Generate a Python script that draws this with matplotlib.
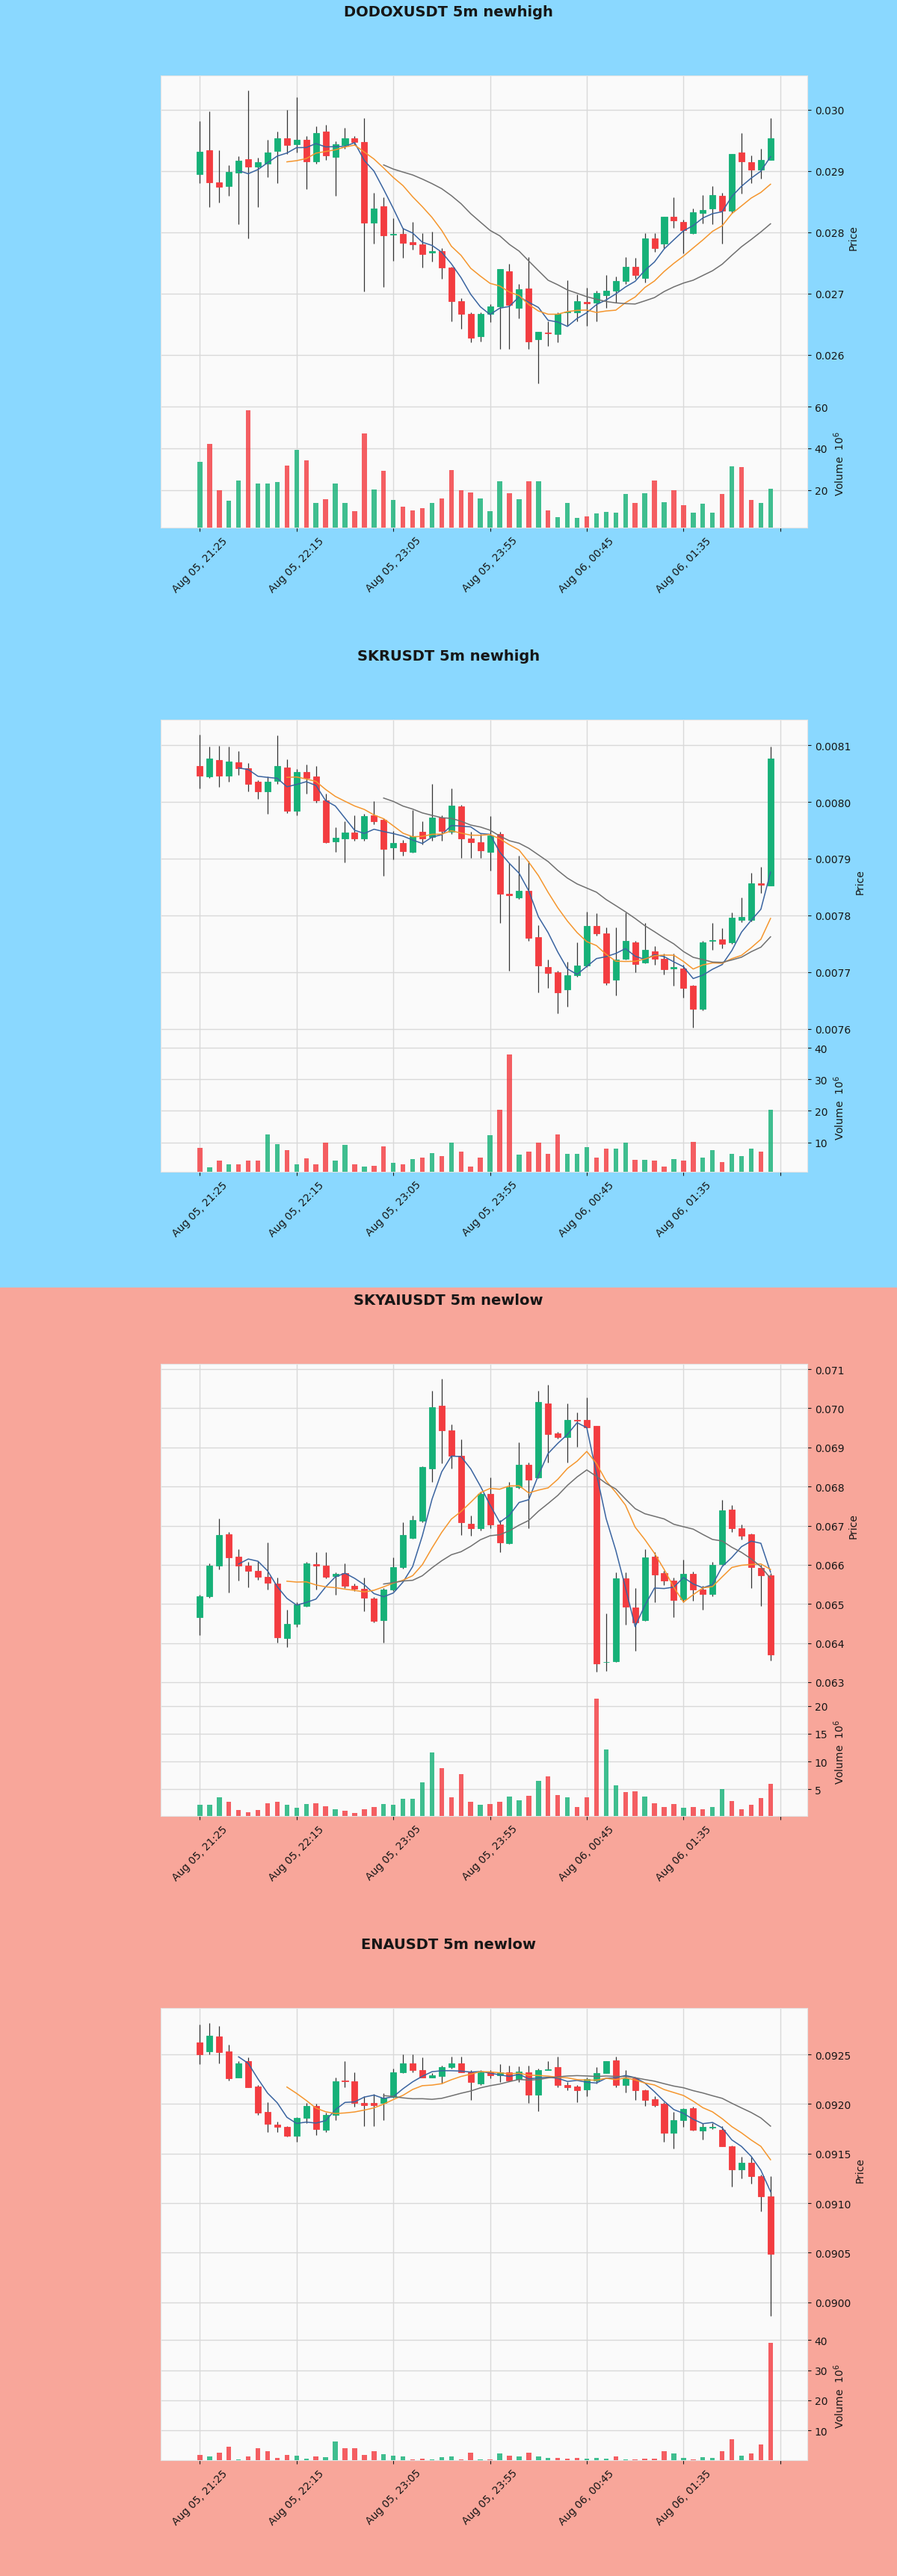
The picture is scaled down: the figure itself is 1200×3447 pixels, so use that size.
import numpy as np
import pandas as pd
import matplotlib
matplotlib.use("Agg")
import matplotlib.pyplot as plt
from matplotlib.patches import Rectangle
from matplotlib.ticker import MultipleLocator, FixedLocator, FuncFormatter, ScalarFormatter

# 5m candles, same 60 timestamps in every panel
times = pd.date_range("2025-08-05 21:25", periods=60, freq="5min")

# ---- DODOXUSDT ----
dodox_open = [0.02895, 0.02934, 0.02882, 0.02876, 0.02898, 0.02919, 0.02907, 0.02912, 0.02933, 0.02953,
              0.02944, 0.02951, 0.02916, 0.02965, 0.02923, 0.02942, 0.02953, 0.02947, 0.02816, 0.02842,
              0.02796, 0.02797, 0.02784, 0.02780, 0.02767, 0.02769, 0.02743, 0.02688, 0.02667, 0.02630,
              0.02667, 0.02679, 0.02736, 0.02677, 0.02708, 0.02625, 0.02636, 0.02634, 0.02669, 0.02669,
              0.02686, 0.02685, 0.02697, 0.02705, 0.02720, 0.02744, 0.02726, 0.02790, 0.02782, 0.02826,
              0.02817, 0.02799, 0.02831, 0.02839, 0.02859, 0.02835, 0.02930, 0.02915, 0.02902, 0.02918]
dodox_high = [0.02981, 0.02997, 0.02934, 0.02909, 0.02924, 0.03032, 0.02922, 0.02951, 0.02965, 0.03000,
              0.03021, 0.02957, 0.02973, 0.02975, 0.02949, 0.02971, 0.02957, 0.02987, 0.02865, 0.02857,
              0.02823, 0.02807, 0.02817, 0.02799, 0.02801, 0.02774, 0.02744, 0.02693, 0.02669, 0.02669,
              0.02683, 0.02740, 0.02748, 0.02716, 0.02760, 0.02637, 0.02655, 0.02669, 0.02722, 0.02699,
              0.02709, 0.02705, 0.02730, 0.02728, 0.02760, 0.02758, 0.02799, 0.02799, 0.02826, 0.02857,
              0.02821, 0.02839, 0.02861, 0.02876, 0.02865, 0.02928, 0.02962, 0.02926, 0.02936, 0.02987]
dodox_low = [0.02880, 0.02841, 0.02849, 0.02859, 0.02813, 0.02790, 0.02841, 0.02890, 0.02880, 0.02928,
             0.02930, 0.02870, 0.02912, 0.02918, 0.02860, 0.02936, 0.02942, 0.02703, 0.02782, 0.02711,
             0.02754, 0.02758, 0.02772, 0.02743, 0.02752, 0.02724, 0.02655, 0.02643, 0.02620, 0.02622,
             0.02653, 0.02610, 0.02610, 0.02659, 0.02610, 0.02553, 0.02614, 0.02620, 0.02647, 0.02655,
             0.02647, 0.02655, 0.02677, 0.02685, 0.02716, 0.02724, 0.02718, 0.02768, 0.02774, 0.02807,
             0.02766, 0.02797, 0.02815, 0.02813, 0.02782, 0.02831, 0.02863, 0.02880, 0.02888, 0.02918]
dodox_close = [0.02932, 0.02881, 0.02874, 0.02899, 0.02917, 0.02907, 0.02915, 0.02930, 0.02953, 0.02942,
               0.02951, 0.02916, 0.02962, 0.02926, 0.02944, 0.02953, 0.02947, 0.02816, 0.02839, 0.02795,
               0.02797, 0.02783, 0.02780, 0.02764, 0.02769, 0.02742, 0.02688, 0.02667, 0.02628, 0.02667,
               0.02679, 0.02740, 0.02681, 0.02707, 0.02622, 0.02637, 0.02635, 0.02667, 0.02671, 0.02687,
               0.02684, 0.02701, 0.02705, 0.02720, 0.02744, 0.02730, 0.02790, 0.02774, 0.02826, 0.02819,
               0.02803, 0.02833, 0.02836, 0.02861, 0.02835, 0.02928, 0.02916, 0.02902, 0.02918, 0.02953]
dodox_vol = [33.5, 42, 19.8, 14.9, 24.5, 58.2, 23.2, 23, 23.8, 31.7,
             39.3, 34.1, 13.7, 15.6, 23.1, 13.7, 9.9, 47.1, 20.1, 29.2,
             15.2, 12, 10.2, 11.3, 13.9, 15.8, 29.6, 20, 18.8, 15.8,
             9.9, 24.2, 18.4, 15.6, 24.2, 24.2, 10.2, 6.9, 13.7, 6.5,
             7.5, 8.7, 9.5, 9.3, 18.2, 13.8, 18.4, 24.5, 14.3, 20,
             12.6, 9.3, 13.4, 9, 18, 31.3, 31, 15.2, 13.7, 20.6]

# ---- SKRUSDT ----
skr_open = [0.008063, 0.008045, 0.008074, 0.008046, 0.008070, 0.008059, 0.008035, 0.008018, 0.008037, 0.008061,
            0.007984, 0.008053, 0.008045, 0.008003, 0.007930, 0.007936, 0.007946, 0.007936, 0.007976, 0.007968,
            0.007920, 0.007928, 0.007912, 0.007947, 0.007938, 0.007973, 0.007947, 0.007992, 0.007935, 0.007929,
            0.007912, 0.007944, 0.007838, 0.007831, 0.007844, 0.007762, 0.007709, 0.007700, 0.007669, 0.007694,
            0.007712, 0.007781, 0.007769, 0.007687, 0.007724, 0.007752, 0.007717, 0.007737, 0.007723, 0.007707,
            0.007707, 0.007676, 0.007636, 0.007755, 0.007758, 0.007753, 0.007792, 0.007792, 0.007857, 0.007853]
skr_high = [0.008119, 0.008097, 0.008099, 0.008097, 0.008090, 0.008069, 0.008038, 0.008045, 0.008117, 0.008075,
            0.008058, 0.008066, 0.008063, 0.008014, 0.007955, 0.007966, 0.007977, 0.007979, 0.008002, 0.007971,
            0.007949, 0.007933, 0.007985, 0.007966, 0.008032, 0.007977, 0.008024, 0.007995, 0.007947, 0.007944,
            0.007975, 0.007947, 0.007892, 0.007905, 0.007896, 0.007783, 0.007722, 0.007702, 0.007718, 0.007753,
            0.007807, 0.007804, 0.007779, 0.007779, 0.007805, 0.007755, 0.007787, 0.007746, 0.007733, 0.007733,
            0.007713, 0.007678, 0.007755, 0.007787, 0.007777, 0.007805, 0.007831, 0.007875, 0.007886, 0.008098]
skr_low = [0.008024, 0.008042, 0.008026, 0.008035, 0.008047, 0.008018, 0.008005, 0.007979, 0.008032, 0.007980,
           0.007977, 0.008014, 0.007999, 0.007927, 0.007912, 0.007894, 0.007931, 0.007931, 0.007960, 0.007870,
           0.007899, 0.007905, 0.007910, 0.007925, 0.007931, 0.007931, 0.007944, 0.007901, 0.007901, 0.007901,
           0.007879, 0.007787, 0.007702, 0.007829, 0.007755, 0.007665, 0.007672, 0.007628, 0.007639, 0.007692,
           0.007709, 0.007765, 0.007678, 0.007659, 0.007722, 0.007700, 0.007716, 0.007713, 0.007696, 0.007676,
           0.007655, 0.007602, 0.007633, 0.007739, 0.007742, 0.007750, 0.007788, 0.007790, 0.007840, 0.007852]
skr_close = [0.008046, 0.008077, 0.008046, 0.008071, 0.008059, 0.008032, 0.008018, 0.008036, 0.008063, 0.007984,
             0.008053, 0.008042, 0.008003, 0.007929, 0.007937, 0.007946, 0.007935, 0.007975, 0.007966, 0.007917,
             0.007928, 0.007913, 0.007940, 0.007936, 0.007973, 0.007949, 0.007994, 0.007935, 0.007929, 0.007915,
             0.007941, 0.007838, 0.007835, 0.007843, 0.007760, 0.007712, 0.007699, 0.007664, 0.007694, 0.007712,
             0.007782, 0.007768, 0.007681, 0.007722, 0.007755, 0.007715, 0.007739, 0.007723, 0.007705, 0.007709,
             0.007672, 0.007635, 0.007753, 0.007757, 0.007750, 0.007796, 0.007797, 0.007857, 0.007854, 0.008077]
skr_vol = [8.3, 2.1, 4.3, 3.1, 2.9, 4.3, 4.3, 12.4, 9.3, 7.5,
           3.1, 4.9, 3.1, 10, 4.1, 9.1, 3.1, 2.2, 2.6, 8.7,
           3.5, 2.9, 4.6, 5.1, 6.5, 5.5, 10, 7.1, 2.3, 5.1,
           12.2, 20.3, 37.9, 6.1, 7.1, 10, 6.3, 12.4, 6.3, 6.3,
           8.4, 5.1, 8, 7.9, 9.8, 4.5, 4.5, 4.1, 2.3, 4.7,
           4.1, 10.2, 5.1, 7.5, 3.7, 6.3, 5.5, 8, 7.1, 20.3]

# ---- SKYAIUSDT ----
skyai_open = [0.06466, 0.06519, 0.06598, 0.06679, 0.06620, 0.06597, 0.06584, 0.06570, 0.06552, 0.06413,
              0.06448, 0.06495, 0.06602, 0.06597, 0.06572, 0.06578, 0.06546, 0.06538, 0.06514, 0.06459,
              0.06536, 0.06594, 0.06669, 0.06712, 0.06846, 0.07006, 0.06944, 0.06878, 0.06704, 0.06693,
              0.06781, 0.06703, 0.06655, 0.06798, 0.06856, 0.06824, 0.07012, 0.06936, 0.06927, 0.06970,
              0.06971, 0.06955, 0.06351, 0.06354, 0.06565, 0.06490, 0.06459, 0.06620, 0.06578, 0.06559,
              0.06511, 0.06576, 0.06536, 0.06525, 0.06602, 0.06741, 0.06693, 0.06678, 0.06593, 0.06573]
skyai_high = [0.06524, 0.06604, 0.06719, 0.06683, 0.06639, 0.06607, 0.06610, 0.06658, 0.06568, 0.06485,
              0.06504, 0.06608, 0.06632, 0.06632, 0.06581, 0.06604, 0.06552, 0.06568, 0.06517, 0.06540,
              0.06619, 0.06709, 0.06725, 0.06851, 0.07044, 0.07076, 0.06958, 0.06920, 0.06725, 0.06786,
              0.06824, 0.06715, 0.06811, 0.06913, 0.06862, 0.07044, 0.07060, 0.06939, 0.07012, 0.06990,
              0.07028, 0.06955, 0.06476, 0.06581, 0.06581, 0.06540, 0.06639, 0.06632, 0.06584, 0.06568,
              0.06613, 0.06582, 0.06546, 0.06607, 0.06766, 0.06752, 0.06703, 0.06680, 0.06600, 0.06578]
skyai_low = [0.06421, 0.06516, 0.06588, 0.06530, 0.06559, 0.06543, 0.06562, 0.06536, 0.06401, 0.06389,
             0.06441, 0.06492, 0.06536, 0.06565, 0.06524, 0.06540, 0.06533, 0.06482, 0.06453, 0.06402,
             0.06533, 0.06591, 0.06667, 0.06709, 0.06811, 0.06859, 0.06846, 0.06677, 0.06674, 0.06687,
             0.06693, 0.06632, 0.06653, 0.06795, 0.06693, 0.06821, 0.06862, 0.06923, 0.06862, 0.06901,
             0.06949, 0.06326, 0.06329, 0.06351, 0.06447, 0.06380, 0.06457, 0.06504, 0.06549, 0.06466,
             0.06504, 0.06508, 0.06485, 0.06520, 0.06600, 0.06683, 0.06664, 0.06540, 0.06495, 0.06356]
skyai_close = [0.06520, 0.06598, 0.06677, 0.06618, 0.06597, 0.06584, 0.06570, 0.06554, 0.06415, 0.06448,
               0.06498, 0.06604, 0.06597, 0.06570, 0.06576, 0.06546, 0.06538, 0.06515, 0.06457, 0.06536,
               0.06594, 0.06677, 0.06714, 0.06850, 0.07003, 0.06944, 0.06878, 0.06708, 0.06693, 0.06782,
               0.06703, 0.06657, 0.06798, 0.06856, 0.06818, 0.07016, 0.06934, 0.06927, 0.06971, 0.06968,
               0.06952, 0.06348, 0.06352, 0.06565, 0.06492, 0.06453, 0.06618, 0.06575, 0.06559, 0.06510,
               0.06576, 0.06536, 0.06525, 0.06600, 0.06740, 0.06693, 0.06674, 0.06595, 0.06573, 0.06370]
skyai_vol = [2.2, 2.3, 3.6, 2.8, 1.35, 0.9, 1.35, 2.55, 2.8, 2.25,
             1.65, 2.4, 2.55, 2.0, 1.5, 1.2, 0.8, 1.5, 1.8, 2.4,
             2.2, 3.3, 3.3, 6.3, 11.6, 8.8, 3.6, 7.8, 2.8, 2.25,
             2.4, 2.8, 3.7, 3.0, 3.9, 6.5, 7.4, 4.0, 3.6, 1.9,
             3.6, 21.3, 12.2, 5.7, 4.5, 4.6, 3.75, 2.55, 1.9, 2.4,
             1.65, 1.8, 1.5, 1.9, 5.0, 2.9, 1.5, 2.25, 3.45, 6.0]

# ---- ENAUSDT ----
ena_open = [0.09262, 0.09253, 0.09268, 0.09253, 0.09227, 0.09243, 0.09218, 0.09192, 0.09179, 0.09177,
            0.09168, 0.09186, 0.09198, 0.09174, 0.09189, 0.09224, 0.09223, 0.09201, 0.09201, 0.09201,
            0.09207, 0.09232, 0.09241, 0.09234, 0.09227, 0.09228, 0.09237, 0.09241, 0.09232, 0.09221,
            0.09232, 0.09229, 0.09232, 0.09225, 0.09232, 0.09209, 0.09234, 0.09237, 0.09219, 0.09218,
            0.09215, 0.09224, 0.09231, 0.09244, 0.09219, 0.09226, 0.09214, 0.09205, 0.09200, 0.09171,
            0.09184, 0.09196, 0.09173, 0.09176, 0.09174, 0.09157, 0.09134, 0.09141, 0.09127, 0.09107]
ena_high = [0.09280, 0.09282, 0.09279, 0.09260, 0.09243, 0.09247, 0.09219, 0.09202, 0.09182, 0.09178,
            0.09187, 0.09201, 0.09200, 0.09191, 0.09227, 0.09243, 0.09232, 0.09208, 0.09210, 0.09211,
            0.09236, 0.09250, 0.09250, 0.09247, 0.09231, 0.09239, 0.09248, 0.09248, 0.09234, 0.09234,
            0.09234, 0.09240, 0.09239, 0.09238, 0.09239, 0.09236, 0.09243, 0.09248, 0.09222, 0.09219,
            0.09227, 0.09237, 0.09243, 0.09248, 0.09234, 0.09227, 0.09215, 0.09208, 0.09202, 0.09192,
            0.09196, 0.09197, 0.09181, 0.09181, 0.09178, 0.09158, 0.09147, 0.09147, 0.09129, 0.09127]
ena_low = [0.09240, 0.09250, 0.09241, 0.09224, 0.09227, 0.09217, 0.09189, 0.09172, 0.09172, 0.09167,
           0.09162, 0.09181, 0.09169, 0.09172, 0.09184, 0.09217, 0.09197, 0.09178, 0.09178, 0.09184,
           0.09206, 0.09231, 0.09232, 0.09227, 0.09227, 0.09221, 0.09236, 0.09232, 0.09204, 0.09219,
           0.09226, 0.09222, 0.09223, 0.09222, 0.09201, 0.09193, 0.09234, 0.09217, 0.09214, 0.09202,
           0.09208, 0.09221, 0.09231, 0.09217, 0.09212, 0.09204, 0.09198, 0.09197, 0.09162, 0.09155,
           0.09177, 0.09173, 0.09164, 0.09175, 0.09157, 0.09117, 0.09125, 0.09120, 0.09092, 0.08986]
ena_close = [0.09250, 0.09269, 0.09252, 0.09226, 0.09241, 0.09217, 0.09191, 0.09180, 0.09177, 0.09168,
             0.09186, 0.09198, 0.09175, 0.09189, 0.09223, 0.09223, 0.09201, 0.09199, 0.09199, 0.09206,
             0.09232, 0.09241, 0.09234, 0.09227, 0.09229, 0.09237, 0.09241, 0.09232, 0.09222, 0.09232,
             0.09229, 0.09232, 0.09224, 0.09233, 0.09209, 0.09234, 0.09235, 0.09219, 0.09217, 0.09214,
             0.09225, 0.09231, 0.09243, 0.09219, 0.09226, 0.09214, 0.09204, 0.09199, 0.09171, 0.09184,
             0.09195, 0.09174, 0.09177, 0.09177, 0.09157, 0.09134, 0.09141, 0.09127, 0.09107, 0.09049]
ena_vol = [2.0, 1.5, 2.6, 4.6, 0.5, 1.5, 4.2, 3.1, 0.9, 2.0,
           1.7, 0.7, 1.3, 1.1, 6.3, 4.0, 4.2, 2.0, 3.0, 2.1,
           1.7, 1.3, 0.5, 0.7, 0.5, 1.1, 1.3, 0.5, 2.6, 0.5,
           0.5, 2.3, 1.7, 1.3, 2.6, 1.5, 0.9, 0.9, 0.7, 0.9,
           0.7, 0.9, 0.7, 1.3, 0.5, 0.5, 0.7, 0.7, 3.0, 2.3,
           0.9, 0.5, 1.2, 0.9, 3.0, 7.1, 1.7, 2.3, 5.3, 39.1]

titles = ["DODOXUSDT 5m newhigh", "SKRUSDT 5m newhigh", "SKYAIUSDT 5m newlow", "ENAUSDT 5m newlow"]
price_steps = [0.001, 0.0001, 0.001, 0.0005]

# colours / layout
BG_HIGH = "#8ad8ff"
BG_LOW = "#f8a69a"
UP = "#16b178"
DOWN = "#f33c40"
WICK = "#333333"
MAV = [(5, "#3a64a0"), (10, "#f5962e"), (20, "#707070")]
TXT = "#161616"

W, H = 1200, 3448
SEC = 862


def fy(px):
    return 1 - px / H


def draw_chart(fig, k, title, o, h, l, c, v, step, bg):
    top = k * SEC
    o, h, l, c, v = map(np.asarray, (o, h, l, c, v))
    x = np.arange(len(c))

    fig.patches.append(Rectangle((0, fy(top + SEC)), 1, SEC / H,
                                 transform=fig.transFigure, color=bg, zorder=-10))
    fig.text(0.5, fy(top + 17), title, ha="center", va="center",
             fontsize=14, weight="bold", color=TXT)

    ax = fig.add_axes([215 / W, fy(top + 534), 865 / W, 432 / H])
    axv = fig.add_axes([215 / W, fy(top + 707), 865 / W, 173 / H], sharex=ax)

    up = c >= o
    cols = np.where(up, UP, DOWN)

    # candles
    ax.vlines(x, l, h, color=WICK, lw=0.9, zorder=2)
    ax.bar(x, np.abs(c - o), bottom=np.minimum(o, c), width=0.62,
           color=cols, edgecolor=cols, lw=0.6, zorder=3)
    for n, col in MAV:
        ma = pd.Series(c).rolling(n).mean()
        ax.plot(x, ma, color=col, lw=1.1, zorder=4)

    # volume
    axv.bar(x, v, width=0.5, color=cols, alpha=0.82, zorder=3)

    lo, hi = l.min(), h.max()
    pad = 0.05 * (hi - lo)
    ax.set_ylim(lo - pad, hi + pad)
    axv.set_ylim(0.3 * v.min(), 1.1 * v.max())
    ax.set_xlim(-4.05, 62.8)

    for a in (ax, axv):
        a.set_facecolor("#fafafa")
        a.grid(True, color="#d9d9d9", lw=1.0)
        a.set_axisbelow(True)
        a.yaxis.tick_right()
        a.yaxis.set_label_position("right")
        a.tick_params(axis="both", colors=TXT, labelsize=10, length=3.5)
        for s in a.spines.values():
            s.set_color("#e4e4e4")
            s.set_linewidth(0.8)
    ax.spines["bottom"].set_visible(False)
    axv.spines["top"].set_visible(False)

    ax.yaxis.set_major_locator(MultipleLocator(step))
    fmt = ScalarFormatter(useOffset=False)
    fmt.set_scientific(False)
    ax.yaxis.set_major_formatter(fmt)
    ax.set_ylabel("Price", fontsize=10, color=TXT)
    axv.set_ylabel("Volume  $10^6$", fontsize=10, color=TXT)

    axv.xaxis.set_major_locator(FixedLocator(range(0, 61, 10)))

    def date_label(val, pos):
        i = int(round(val))
        if 0 <= i < len(times):
            return times[i].strftime("%b %d, %H:%M")
        return ""

    axv.xaxis.set_major_formatter(FuncFormatter(date_label))
    ax.tick_params(axis="x", labelbottom=False, length=0)
    for lab in axv.get_xticklabels():
        lab.set_rotation(45)
        lab.set_ha("center")


fig = plt.figure(figsize=(W / 100, H / 100), dpi=100)
fig.patch.set_facecolor(BG_HIGH)

charts = [
    (dodox_open, dodox_high, dodox_low, dodox_close, dodox_vol, BG_HIGH),
    (skr_open, skr_high, skr_low, skr_close, skr_vol, BG_HIGH),
    (skyai_open, skyai_high, skyai_low, skyai_close, skyai_vol, BG_LOW),
    (ena_open, ena_high, ena_low, ena_close, ena_vol, BG_LOW),
]
for k, (o, h, l, c, v, bg) in enumerate(charts):
    draw_chart(fig, k, titles[k], o, h, l, c, v, price_steps[k], bg)

fig.savefig("out.png", dpi=100, facecolor=fig.get_facecolor())
